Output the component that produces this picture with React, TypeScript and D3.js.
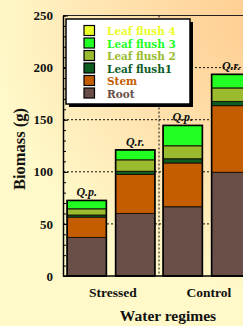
import React, { useRef, useEffect } from 'react';
import * as d3 from 'd3';

const groups = ['Stressed', 'Control'];
const species = ['Q.p.', 'Q.r.'];
const layerNames = ['Root', 'Stem', 'Leaf flush1', 'Leaf flush 2', 'Leaf flush 3', 'Leaf flush 4'];
// one value per bar: Stressed Q.p., Stressed Q.r., Control Q.p., Control Q.r.
const rootVals = [37, 60, 66.5, 99.5];
const stemVals = [19.5, 37.5, 42, 64];
const leaf1Vals = [2, 3, 4, 4];
const leaf2Vals = [6, 11, 12.5, 13];
const leaf3Vals = [8, 9.5, 19.5, 13];
const leaf4Vals = [0, 0, 0, 0];
const yTicks = [0, 50, 100, 150, 200, 250];

const colors = {
  'Root': '#6a4f48',
  'Stem': '#c45c00',
  'Leaf flush1': '#0b5e1f',
  'Leaf flush 2': '#9abb2e',
  'Leaf flush 3': '#22ff22',
  'Leaf flush 4': '#eaff2a',
};

const W = 243;
const H = 326;
const serif = '"Liberation Serif", "Times New Roman", serif';

const App = () => {
  const ref = useRef(null);

  useEffect(() => {
    document.body.style.margin = '0';
    const svg = d3.select(ref.current);
    svg.selectAll('*').remove();

    const left = 63, right = 255, top = 15.5, bottom = 276;

    // background gradient
    const defs = svg.append('defs');
    const grad = defs.append('radialGradient')
      .attr('id', 'bg').attr('gradientUnits', 'userSpaceOnUse')
      .attr('cx', 265).attr('cy', 20).attr('r', 270);
    grad.append('stop').attr('offset', '0%').attr('stop-color', '#ffcc90');
    grad.append('stop').attr('offset', '55%').attr('stop-color', '#ffe2ae');
    grad.append('stop').attr('offset', '100%').attr('stop-color', '#fff8c8');
    svg.append('rect').attr('width', W).attr('height', H).attr('fill', 'url(#bg)');

    const y = d3.scaleLinear().domain([0, 250]).range([bottom, top]);
    const x0 = d3.scaleBand().domain(groups).range([left, right]).padding(0);
    const x1 = d3.scaleBand().domain(species).range([0, x0.bandwidth()])
      .paddingInner(0.19).paddingOuter(0.085);

    // gridlines
    const grid = svg.append('g');
    grid.selectAll('line.h')
      .data(yTicks.filter(d => d > 0 && d < 250))
      .enter().append('line')
      .attr('x1', left).attr('x2', W)
      .attr('y1', d => y(d)).attr('y2', d => y(d))
      .attr('stroke', '#111').attr('stroke-width', 1).attr('stroke-dasharray', '2,2');
    grid.append('line')
      .attr('x1', x0('Control')).attr('x2', x0('Control'))
      .attr('y1', top).attr('y2', bottom)
      .attr('stroke', '#111').attr('stroke-width', 1).attr('stroke-dasharray', '2,2');
    grid.append('line')
      .attr('x1', left).attr('x2', W).attr('y1', top).attr('y2', top)
      .attr('stroke', '#222').attr('stroke-width', 1);

    // stacked bars
    const table = rootVals.map((_, i) => ({
      group: groups[Math.floor(i / 2)],
      species: species[i % 2],
      'Root': rootVals[i],
      'Stem': stemVals[i],
      'Leaf flush1': leaf1Vals[i],
      'Leaf flush 2': leaf2Vals[i],
      'Leaf flush 3': leaf3Vals[i],
      'Leaf flush 4': leaf4Vals[i],
    }));
    const stack = d3.stack().keys(layerNames)(table);
    const barX = d => x0(d.data.group) + x1(d.data.species);

    svg.append('g').selectAll('g')
      .data(stack)
      .enter().append('g')
      .attr('fill', s => colors[s.key])
      .selectAll('rect')
      .data(s => s.filter(d => d[1] - d[0] > 0))
      .enter().append('rect')
      .attr('x', barX)
      .attr('width', x1.bandwidth())
      .attr('y', d => y(d[1]))
      .attr('height', d => y(d[0]) - y(d[1]))
      .attr('stroke', '#1a1208').attr('stroke-width', 1);

    const totals = table.map(d => layerNames.reduce((a, k) => a + d[k], 0));
    svg.append('g').selectAll('rect')
      .data(table)
      .enter().append('rect')
      .attr('x', d => x0(d.group) + x1(d.species))
      .attr('width', x1.bandwidth())
      .attr('y', (d, i) => y(totals[i]))
      .attr('height', (d, i) => y(0) - y(totals[i]))
      .attr('fill', 'none').attr('stroke', '#000').attr('stroke-width', 1.6);

    svg.append('g').selectAll('text')
      .data(table)
      .enter().append('text')
      .attr('x', d => x0(d.group) + x1(d.species) + x1.bandwidth() / 2)
      .attr('y', (d, i) => y(totals[i]) - 4)
      .attr('text-anchor', 'middle')
      .style('font-family', serif).style('font-style', 'italic').style('font-weight', 'bold')
      .style('font-size', '12px').style('fill', '#111')
      .text(d => d.species);

    // y axis
    const yAxis = svg.append('g').attr('transform', `translate(${left},0)`)
      .call(d3.axisLeft(y).tickValues(yTicks).tickSizeInner(-5).tickSizeOuter(0).tickPadding(10));
    yAxis.select('.domain').attr('stroke', '#000').attr('stroke-width', 1.5);
    yAxis.selectAll('.tick line').attr('stroke', '#000');
    yAxis.selectAll('text')
      .style('font-family', serif).style('font-weight', 'bold').style('font-size', '13px').style('fill', '#111');
    svg.append('g').attr('transform', `translate(${left},0)`)
      .call(d3.axisLeft(y).ticks(25).tickSizeInner(-3).tickSizeOuter(0).tickFormat(() => ''))
      .call(g => g.select('.domain').remove())
      .selectAll('.tick line').attr('stroke', '#000');

    // x axis line
    svg.append('line')
      .attr('x1', left).attr('x2', W).attr('y1', bottom).attr('y2', bottom)
      .attr('stroke', '#000').attr('stroke-width', 1.5);

    svg.append('g').selectAll('text')
      .data(groups)
      .enter().append('text')
      .attr('x', d => x0(d) + x0.bandwidth() / 2 + 2)
      .attr('y', 297)
      .attr('text-anchor', 'middle')
      .style('font-family', serif).style('font-weight', 'bold').style('font-size', '13.5px').style('fill', '#111')
      .text(d => d);

    svg.append('text')
      .attr('x', 168).attr('y', 321)
      .attr('text-anchor', 'middle')
      .style('font-family', serif).style('font-weight', 'bold').style('font-size', '15.5px').style('fill', '#111')
      .text('Water regimes');

    svg.append('text')
      .attr('transform', 'translate(25,149) rotate(-90)')
      .attr('text-anchor', 'middle')
      .style('font-family', serif).style('font-weight', 'bold').style('font-size', '16.5px').style('fill', '#111')
      .text('Biomass (g)');

    // legend
    const lg = svg.append('g');
    lg.append('rect').attr('x', 69).attr('y', 22).attr('width', 124).attr('height', 85).attr('fill', '#000');
    lg.append('rect').attr('x', 66).attr('y', 19).attr('width', 124).attr('height', 85)
      .attr('fill', '#fff').attr('stroke', '#000').attr('stroke-width', 1.5);
    const legendItems = layerNames.slice().reverse();
    const rows = lg.selectAll('g.item')
      .data(legendItems)
      .enter().append('g')
      .attr('transform', (d, i) => `translate(84,${25.5 + i * 12.5})`);
    rows.append('rect')
      .attr('width', 10.5).attr('height', 10)
      .attr('fill', d => colors[d]).attr('stroke', '#000').attr('stroke-width', 1.2);
    rows.append('text')
      .attr('x', 23).attr('y', 9.8)
      .style('font-family', '"DejaVu Serif", serif').style('font-weight', 'bold').style('font-size', '10.5px')
      .style('fill', d => colors[d])
      .text(d => d);
  }, []);

  return <svg ref={ref} width={W} height={H} style={{ display: 'block' }}></svg>;
};

export default App;
